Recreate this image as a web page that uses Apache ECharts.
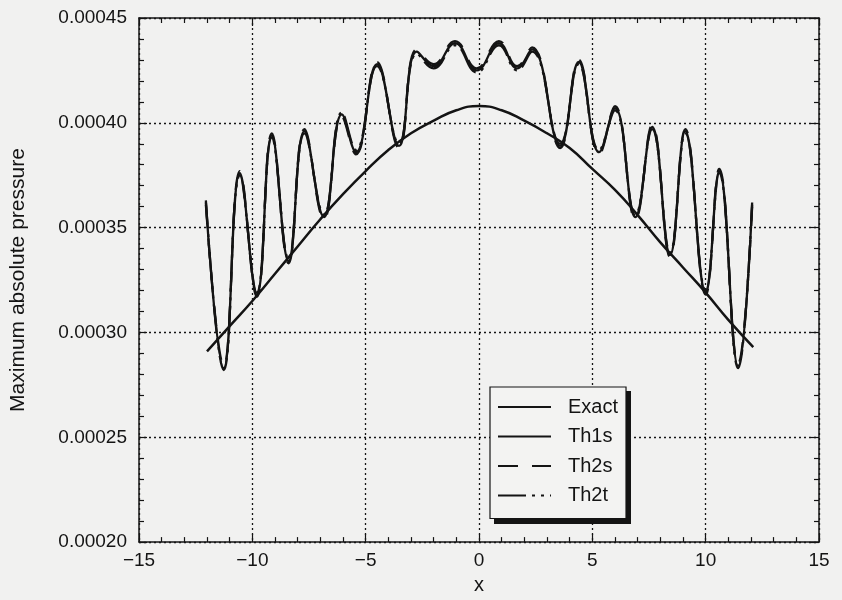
<!DOCTYPE html>
<html>
<head>
<meta charset="utf-8">
<script src="https://cdn.jsdelivr.net/npm/echarts@6/dist/echarts.min.js"></script>
<style>
  html, body { margin: 0; padding: 0; background: #f1f1f0; }
  #chart { width: 842px; height: 600px; }
</style>
</head>
<body>
<div id="chart"></div>
<script>
// exact solution
var exactX = [-12, -11, -10, -9, -8, -7, -6, -5, -4, -3, -2, -1, 0, 1, 2, 3, 4, 5, 6, 7, 8, 9, 10, 11, 12.1];
var exactY = [0.000291, 0.000303, 0.000315, 0.000328, 0.000341, 0.000354, 0.000366, 0.000377, 0.000387, 0.000395,
  0.000401, 0.000406, 0.000408, 0.000406, 0.000401, 0.000395, 0.000388, 0.000378, 0.000368, 0.000356,
  0.000343, 0.000331, 0.000319, 0.000306, 0.000293];

// oscillating numerical results (th1s / th2s / th2t)
var thX = [-12.05, -11.26, -10.55, -9.8, -9.14, -8.4, -7.7, -6.84, -6.05, -5.43, -4.5, -3.53, -2.74, -2.0, -1.06, -0.1,
  0.88, 1.68, 2.34, 3.58, 4.4, 5.3, 6.0, 6.9, 7.64, 8.43, 9.1, 10.0, 10.6, 11.43, 12.05];
var th1s = [0.000362, 0.000283, 0.000376, 0.000318, 0.000394, 0.000334, 0.000396, 0.000355, 0.000404, 0.000386,
  0.000428, 0.000389, 0.000434, 0.000427, 0.000438, 0.000425, 0.000438, 0.000426, 0.000435, 0.000389,
  0.000429, 0.000386, 0.000407, 0.000355, 0.000398, 0.000337, 0.000396, 0.000319, 0.000377, 0.000284, 0.000361];
var th2s = [0.000361, 0.000284, 0.000377, 0.000317, 0.000395, 0.000333, 0.000397, 0.000354, 0.000403, 0.000385,
  0.000429, 0.000388, 0.000435, 0.000428, 0.000439, 0.000426, 0.000439, 0.000427, 0.000436, 0.000388,
  0.000430, 0.000385, 0.000408, 0.000354, 0.000399, 0.000336, 0.000397, 0.000318, 0.000378, 0.000285, 0.000360];
var th2t = [0.000363, 0.000282, 0.000375, 0.000319, 0.000393, 0.000335, 0.000395, 0.000356, 0.000405, 0.000387,
  0.000427, 0.000390, 0.000433, 0.000426, 0.000437, 0.000424, 0.000437, 0.000425, 0.000434, 0.000390,
  0.000428, 0.000387, 0.000406, 0.000356, 0.000397, 0.000338, 0.000395, 0.000320, 0.000376, 0.000283, 0.000362];

var xTicks = { min: -15, max: 15, interval: 5 };
var yTicks = { min: 0.0002, max: 0.00045, interval: 0.00005 };

function pairs(xs, ys) {
  return xs.map(function (x, i) { return [x, ys[i]]; });
}

var font = 'Liberation Sans, Arial, sans-serif';
var ink = '#141414';

var frameAxis = {
  axisLine: { show: true, onZero: false, lineStyle: { color: ink, width: 1.5 } },
  axisTick: { show: true, inside: true, length: 8, lineStyle: { color: ink, width: 1.2 } },
  minorTick: { show: true, splitNumber: 5, length: 5, lineStyle: { color: ink, width: 1.2 } },
  axisLabel: { show: false },
  splitLine: { show: false }
};

var myChart = echarts.init(document.getElementById('chart'));
var option = {
  backgroundColor: '#f1f1f0',
  animation: false,
  grid: { left: 138, right: 23, top: 18, bottom: 53 },
  // legend drop shadow
  graphic: [{
    type: 'rect', left: 494, top: 391, z: 3, silent: true,
    shape: { width: 137, height: 133 },
    style: { fill: ink }
  }],
  legend: {
    orient: 'vertical',
    left: 490,
    top: 387,
    z: 5,
    data: ['Exact', 'Th1s', 'Th2s', 'Th2t'],
    backgroundColor: '#f3f3f2',
    borderColor: ink,
    borderWidth: 1.2,
    padding: [10, 8, 13, 7],
    itemWidth: 53,
    itemHeight: 14,
    itemGap: 9.5,
    itemStyle: { opacity: 0 },
    textStyle: { fontFamily: font, fontSize: 20, color: ink, padding: [0, 0, 0, 12], lineHeight: 20 }
  },
  xAxis: [
    Object.assign({}, frameAxis, {
      type: 'value', min: xTicks.min, max: xTicks.max, interval: xTicks.interval,
      name: 'x', nameLocation: 'middle', nameGap: 31,
      nameTextStyle: { fontFamily: font, fontSize: 20, color: ink },
      axisLabel: {
        show: true, margin: 9, fontFamily: font, fontSize: 19, color: ink,
        formatter: function (v) { return String(v).replace('-', '\u2212'); }
      },
      splitLine: { show: true, lineStyle: { color: ink, type: [2, 3], width: 1.3 } }
    }),
    Object.assign({}, frameAxis, {
      type: 'value', position: 'top', min: xTicks.min, max: xTicks.max, interval: xTicks.interval
    })
  ],
  yAxis: [
    Object.assign({}, frameAxis, {
      type: 'value', min: yTicks.min, max: yTicks.max, interval: yTicks.interval,
      name: 'Maximum absolute pressure', nameLocation: 'middle', nameGap: 110,
      nameTextStyle: { fontFamily: font, fontSize: 21, color: ink },
      axisLabel: {
        show: true, margin: 12, fontFamily: font, fontSize: 19, color: ink,
        formatter: function (v) { return v.toFixed(5); }
      },
      splitLine: { show: true, lineStyle: { color: ink, type: [2, 3], width: 1.3 } }
    }),
    Object.assign({}, frameAxis, {
      type: 'value', position: 'right', min: yTicks.min, max: yTicks.max, interval: yTicks.interval
    })
  ],
  series: [
    {
      name: 'Exact', type: 'line', data: pairs(exactX, exactY), smooth: 0.5,
      symbol: 'none', lineStyle: { color: ink, width: 2.5 }, itemStyle: { color: ink }
    },
    {
      name: 'Th1s', type: 'line', data: pairs(thX, th1s), smooth: 0.45,
      symbol: 'none', lineStyle: { color: ink, width: 2.3 }, itemStyle: { color: ink }
    },
    {
      name: 'Th2s', type: 'line', data: pairs(thX, th2s), smooth: 0.45,
      symbol: 'none', lineStyle: { color: ink, width: 2.3, type: [20, 14] }, itemStyle: { color: ink }
    },
    {
      name: 'Th2t', type: 'line', data: pairs(thX, th2t), smooth: 0.45,
      symbol: 'none', lineStyle: { color: ink, width: 2.3, type: [28, 6, 3, 6, 3, 6] }, itemStyle: { color: ink }
    }
  ]
};
myChart.setOption(option);
</script>
</body>
</html>
